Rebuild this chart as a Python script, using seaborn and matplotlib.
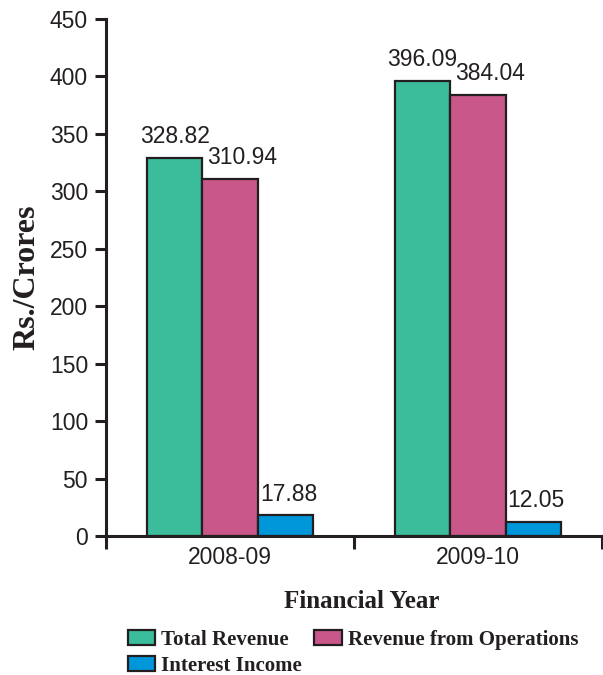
import matplotlib
matplotlib.use("Agg")
import matplotlib.pyplot as plt
import seaborn as sns
import pandas as pd

years = ["2008-09", "2009-10"]
series = ["Total Revenue", "Revenue from Operations", "Interest Income"]
total_revenue = [328.82, 396.09]
revenue_ops = [310.94, 384.04]
interest_income = [17.88, 12.05]
colors = ["#3bbd9c", "#c9578a", "#0097da"]

rows = []
for s, vals in zip(series, [total_revenue, revenue_ops, interest_income]):
    for y, v in zip(years, vals):
        rows.append({"Year": y, "Series": s, "Value": v})
df = pd.DataFrame(rows)

sns.set_style("white")
fig = plt.figure(figsize=(6.03, 6.75), dpi=100)
ax = fig.add_axes([0.176, 0.206, 0.822, 0.766])

sns.barplot(data=df, x="Year", y="Value", hue="Series", order=years,
            hue_order=series, palette=colors, width=0.67, gap=0,
            edgecolor="#231f20", linewidth=1.6, saturation=1, ax=ax,
            legend=True)

TXT = "#231f20"
FS = 16.5

# value labels
xshift = {0: 0, 1: 12, 2: 3}
for i, cont in enumerate(ax.containers):
    for bar in cont:
        h = bar.get_height()
        ax.annotate(f"{h:.2f}", (bar.get_x() + bar.get_width() / 2, h),
                    xytext=(xshift[i] * 0.72, 7), textcoords="offset points",
                    ha="center", va="bottom", fontsize=FS,
                    family="Liberation Sans", color=TXT)

ax.set_ylim(0, 450)
ax.set_yticks(range(0, 451, 50))
ax.set_xlim(-0.5, 1.5)
ax.set_xticks([-0.5, 0.5, 1.5])
ax.set_xticklabels(["", "", ""])
ax.set_xticks([0, 1], minor=True)
ax.set_xticklabels(years, minor=True, fontsize=FS, family="Liberation Sans", color=TXT)
ax.tick_params(axis="x", which="major", bottom=True, length=9, width=2.2,
               direction="out", color=TXT)
ax.tick_params(axis="x", which="minor", bottom=True, length=0, pad=7)
ax.tick_params(axis="y", left=True, length=8, width=2.2, direction="out",
               color=TXT, pad=5)
for lab in ax.get_yticklabels():
    lab.set_family("Liberation Sans")
    lab.set_fontsize(FS)
    lab.set_color(TXT)

sns.despine(ax=ax, top=True, right=True)
for sp in ["left", "bottom"]:
    ax.spines[sp].set_linewidth(2.2)
    ax.spines[sp].set_color(TXT)

ax.set_ylabel("Rs./Crores", family="Liberation Serif", fontweight="bold",
              fontsize=23, color=TXT, labelpad=6)
ax.set_xlabel("Financial Year", family="Liberation Serif", fontweight="bold",
              fontsize=18, color=TXT, labelpad=16)
ax.xaxis.set_label_coords(0.515, -0.105)

handles, labels = ax.get_legend_handles_labels()
ax.legend_.remove()
order = [0, 2, 1]
leg = fig.legend([handles[k] for k in order], [labels[k] for k in order],
                 loc="upper left", bbox_to_anchor=(0.212, 0.067),
                 ncol=2, frameon=False, handlelength=1.3, handleheight=0.72,
                 columnspacing=0.6, handletextpad=0.3, labelspacing=0.3,
                 borderaxespad=0, borderpad=0,
                 prop={"family": "Liberation Serif", "weight": "bold", "size": 15})
for t in leg.get_texts():
    t.set_color(TXT)

fig.savefig("out.png", dpi=100)
